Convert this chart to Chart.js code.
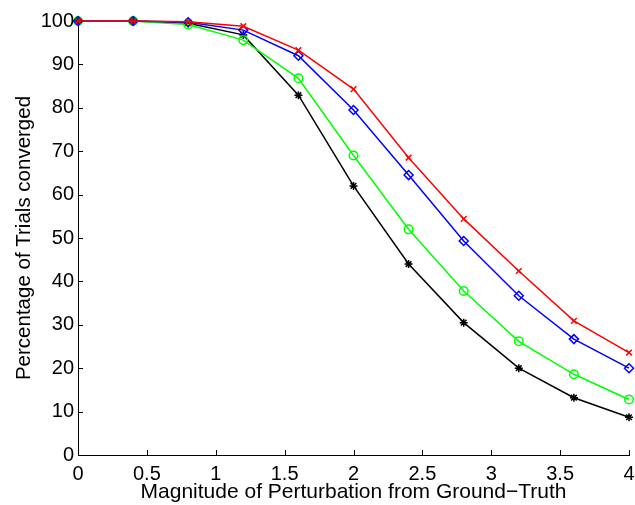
<!DOCTYPE html>
<html>
<head>
<meta charset="utf-8">
<script src="https://cdn.jsdelivr.net/npm/chart.js@4"></script>
<style>
  html, body { margin: 0; padding: 0; background: #fff; }
  #wrap { width: 635px; height: 505px; }
</style>
</head>
<body>
<div id="wrap"><canvas id="chart" width="635" height="505"></canvas></div>
<script>
// x positions (magnitude of perturbation)
const magnitudes = [0, 0.4, 0.8, 1.2, 1.6, 2.0, 2.4, 2.8, 3.2, 3.6, 4.0];

// percentage of trials converged
const redCross   = [100, 100, 99.8, 98.8, 93.3, 84.3, 68.5, 54.4, 42.4, 30.9, 23.6];
const blueDiamond = [100, 100, 99.7, 97.9, 92.0, 79.5, 64.5, 49.3, 36.7, 26.7, 20.0];
const greenCircle = [100, 100, 99.2, 95.6, 86.8, 69.0, 52.0, 37.8, 26.2, 18.6, 12.8];
const blackStar  = [100, 100, 99.5, 96.8, 82.9, 62.0, 44.0, 30.5, 20.0, 13.2, 8.7];

const FONT = 'Liberation Sans, Arial, Helvetica, sans-serif';

const toPoints = ys => ys.map((y, i) => ({ x: magnitudes[i], y }));

function series(data, color, style, radius) {
  return {
    data: toPoints(data),
    borderColor: color,
    backgroundColor: 'rgba(0,0,0,0)',
    pointBorderColor: color,
    pointBackgroundColor: 'rgba(0,0,0,0)',
    pointStyle: style,
    pointRadius: radius,
    pointBorderWidth: 1.5,
    borderWidth: 1.5,
    tension: 0,
    fill: false,
    clip: false
  };
}

// MATLAB-style inward tick marks
const inwardTicks = {
  id: 'inwardTicks',
  beforeDatasetsDraw(chart) {
    const { ctx, chartArea, scales } = chart;
    ctx.save();
    ctx.strokeStyle = '#000';
    ctx.lineWidth = 1;
    scales.x.ticks.forEach(t => {
      const px = Math.round(scales.x.getPixelForValue(t.value)) + 0.5;
      ctx.beginPath();
      ctx.moveTo(px, chartArea.bottom);
      ctx.lineTo(px, chartArea.bottom - 5);
      ctx.stroke();
    });
    scales.y.ticks.forEach(t => {
      const py = Math.round(scales.y.getPixelForValue(t.value)) + 0.5;
      ctx.beginPath();
      ctx.moveTo(chartArea.left, py);
      ctx.lineTo(chartArea.left + 5, py);
      ctx.stroke();
    });
    ctx.restore();
  }
};

const ctx = document.getElementById('chart').getContext('2d');
new Chart(ctx, {
  type: 'line',
  data: {
    datasets: [
      series(redCross, '#ff0000', 'crossRot', 4),
      series(blueDiamond, '#0000ff', 'rectRot', 4.5),
      series(greenCircle, '#00ff00', 'circle', 4.3),
      series(blackStar, '#000000', 'star', 4)
    ]
  },
  options: {
    responsive: false,
    animation: false,
    layout: { autoPadding: false, padding: { top: 21, right: 6, left: 0, bottom: 0 } },
    plugins: { legend: { display: false }, tooltip: { enabled: false } },
    scales: {
      x: {
        type: 'linear',
        min: 0,
        max: 4,
        afterFit: s => { s.height = 50; s.paddingLeft = 0; s.paddingRight = 0; },
        border: { display: true, color: '#000', width: 1 },
        grid: { drawOnChartArea: false, drawTicks: false },
        ticks: {
          stepSize: 0.5, color: '#000', padding: 7, maxRotation: 0,
          font: { family: FONT, size: 20 },
          callback: v => String(Number(v))
        },
        title: {
          display: true,
          text: 'Magnitude of Perturbation from Ground\u2212Truth',
          color: '#000',
          padding: { top: 0, bottom: 0 },
          font: { family: FONT, size: 21 }
        }
      },
      y: {
        min: 0,
        max: 100,
        afterFit: s => { s.width = 78; s.paddingTop = 0; s.paddingBottom = 0; },
        border: { display: true, color: '#000', width: 1 },
        grid: { drawOnChartArea: false, drawTicks: false },
        ticks: { stepSize: 10, color: '#000', padding: 4, font: { family: FONT, size: 20 } },
        title: {
          display: true,
          text: 'Percentage of Trials converged',
          color: '#000',
          padding: { top: 12, bottom: 0 },
          font: { family: FONT, size: 20.5 }
        }
      }
    }
  },
  plugins: [inwardTicks]
});
</script>
</body>
</html>
